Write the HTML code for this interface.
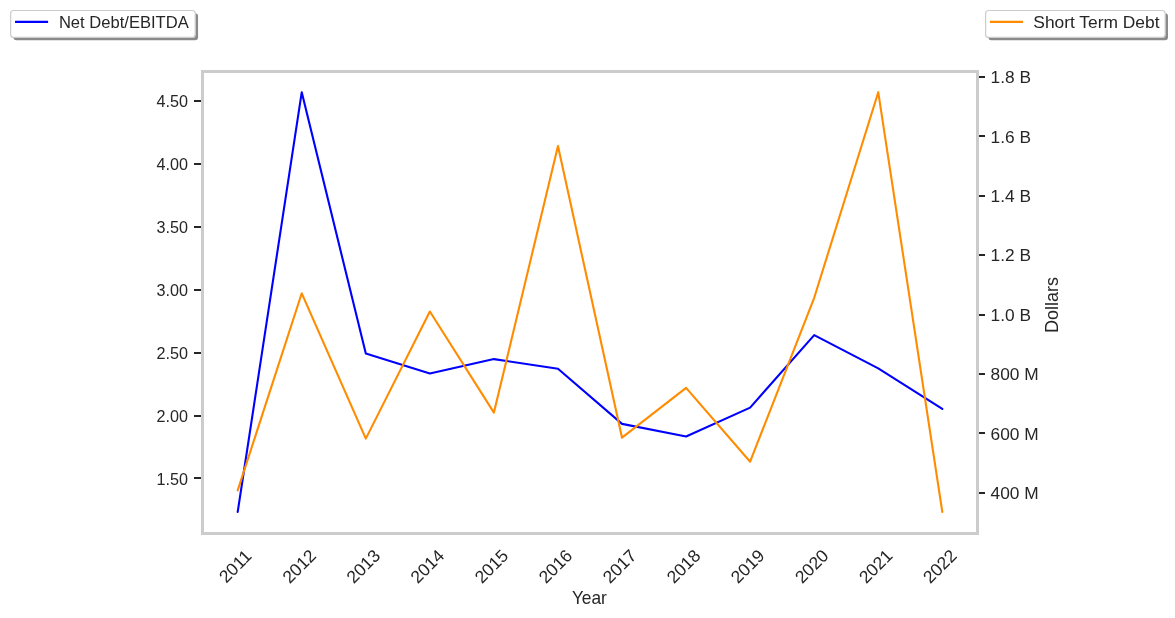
<!DOCTYPE html><html><head><meta charset="utf-8"><style>html,body{margin:0;padding:0;background:#fff;overflow:hidden}svg{display:block;will-change:transform}</style></head><body>
<svg width="1175" height="618" viewBox="0 0 1175 618" font-family='"Liberation Sans", sans-serif' fill="#262626">
<rect x="0" y="0" width="1175" height="618" fill="#fff"/>
<polyline points="237.70,511.90 301.75,92.20 365.81,353.60 429.87,373.50 493.92,359.10 557.98,368.80 622.03,423.90 686.09,436.50 750.14,407.60 814.20,335.10 878.25,368.40 942.31,408.90" fill="none" stroke="#0000ff" stroke-width="2.1" stroke-linejoin="round" stroke-linecap="round"/>
<polyline points="237.70,490.40 301.75,293.30 365.81,438.60 429.87,311.50 493.92,412.60 557.98,146.10 622.03,437.70 686.09,387.90 750.14,461.70 814.20,297.80 878.25,92.20 942.31,511.90" fill="none" stroke="#ff8c00" stroke-width="2.1" stroke-linejoin="round" stroke-linecap="round"/>
<rect x="202.5" y="71.5" width="775" height="462" fill="none" stroke="#cccccc" stroke-width="3"/>
<rect x="194" y="100.00" width="7" height="2" fill="#262626"/>
<text x="188" y="107" font-size="16.5" text-anchor="end" textLength="31.5" lengthAdjust="spacingAndGlyphs">4.50</text>
<rect x="194" y="163.00" width="7" height="2" fill="#262626"/>
<text x="188" y="170" font-size="16.5" text-anchor="end" textLength="31.5" lengthAdjust="spacingAndGlyphs">4.00</text>
<rect x="194" y="226.00" width="7" height="2" fill="#262626"/>
<text x="188" y="233" font-size="16.5" text-anchor="end" textLength="31.5" lengthAdjust="spacingAndGlyphs">3.50</text>
<rect x="194" y="289.00" width="7" height="2" fill="#262626"/>
<text x="188" y="296" font-size="16.5" text-anchor="end" textLength="31.5" lengthAdjust="spacingAndGlyphs">3.00</text>
<rect x="194" y="352.00" width="7" height="2" fill="#262626"/>
<text x="188" y="359" font-size="16.5" text-anchor="end" textLength="31.5" lengthAdjust="spacingAndGlyphs">2.50</text>
<rect x="194" y="415.00" width="7" height="2" fill="#262626"/>
<text x="188" y="422" font-size="16.5" text-anchor="end" textLength="31.5" lengthAdjust="spacingAndGlyphs">2.00</text>
<rect x="194" y="477.00" width="7" height="2" fill="#262626"/>
<text x="188" y="485" font-size="16.5" text-anchor="end" textLength="31.5" lengthAdjust="spacingAndGlyphs">1.50</text>
<rect x="979" y="76.00" width="6" height="2" fill="#262626"/>
<text transform="translate(990.5,83) scale(1.05,1)" font-size="16.5">1.8 B</text>
<rect x="979" y="135.00" width="6" height="2" fill="#262626"/>
<text transform="translate(990.5,143) scale(1.05,1)" font-size="16.5">1.6 B</text>
<rect x="979" y="195.00" width="6" height="2" fill="#262626"/>
<text transform="translate(990.5,202) scale(1.05,1)" font-size="16.5">1.4 B</text>
<rect x="979" y="254.00" width="6" height="2" fill="#262626"/>
<text transform="translate(990.5,261) scale(1.05,1)" font-size="16.5">1.2 B</text>
<rect x="979" y="314.00" width="6" height="2" fill="#262626"/>
<text transform="translate(990.5,321) scale(1.05,1)" font-size="16.5">1.0 B</text>
<rect x="979" y="373.00" width="6" height="2" fill="#262626"/>
<text transform="translate(990.5,380) scale(1.05,1)" font-size="16.5">800 M</text>
<rect x="979" y="432.00" width="6" height="2" fill="#262626"/>
<text transform="translate(990.5,440) scale(1.05,1)" font-size="16.5">600 M</text>
<rect x="979" y="492.00" width="6" height="2" fill="#262626"/>
<text transform="translate(990.5,499) scale(1.05,1)" font-size="16.5">400 M</text>
<text transform="translate(235.20,566.3) rotate(-45)" font-size="17.5" text-anchor="middle" dominant-baseline="central">2011</text>
<text transform="translate(299.25,566.3) rotate(-45)" font-size="17.5" text-anchor="middle" dominant-baseline="central">2012</text>
<text transform="translate(363.31,566.3) rotate(-45)" font-size="17.5" text-anchor="middle" dominant-baseline="central">2013</text>
<text transform="translate(427.37,566.3) rotate(-45)" font-size="17.5" text-anchor="middle" dominant-baseline="central">2014</text>
<text transform="translate(491.42,566.3) rotate(-45)" font-size="17.5" text-anchor="middle" dominant-baseline="central">2015</text>
<text transform="translate(555.48,566.3) rotate(-45)" font-size="17.5" text-anchor="middle" dominant-baseline="central">2016</text>
<text transform="translate(619.53,566.3) rotate(-45)" font-size="17.5" text-anchor="middle" dominant-baseline="central">2017</text>
<text transform="translate(683.59,566.3) rotate(-45)" font-size="17.5" text-anchor="middle" dominant-baseline="central">2018</text>
<text transform="translate(747.64,566.3) rotate(-45)" font-size="17.5" text-anchor="middle" dominant-baseline="central">2019</text>
<text transform="translate(811.70,566.3) rotate(-45)" font-size="17.5" text-anchor="middle" dominant-baseline="central">2020</text>
<text transform="translate(875.75,566.3) rotate(-45)" font-size="17.5" text-anchor="middle" dominant-baseline="central">2021</text>
<text transform="translate(939.81,566.3) rotate(-45)" font-size="17.5" text-anchor="middle" dominant-baseline="central">2022</text>
<text transform="translate(589.4,604) scale(0.963,1)" font-size="18" text-anchor="middle">Year</text>
<text transform="translate(1058.2,305) rotate(-90)" font-size="18" text-anchor="middle">Dollars</text>
<rect x="13.46" y="13.30" width="184.6" height="26.9" rx="3" fill="#8a8a8a"/>
<rect x="10.66" y="10.50" width="184.6" height="26.9" rx="3" fill="#fff" stroke="#cccccc" stroke-width="1.2"/>
<line x1="16.06" y1="21.9" x2="47.06" y2="21.9" stroke="#0000ff" stroke-width="2.1" stroke-linecap="square"/>
<text transform="translate(58.9,27.8) scale(1.005,1)" font-size="16.5">Net Debt/EBITDA</text>
<rect x="988.40" y="13.30" width="179.6" height="26.9" rx="3" fill="#8a8a8a"/>
<rect x="985.60" y="10.50" width="179.6" height="26.9" rx="3" fill="#fff" stroke="#cccccc" stroke-width="1.2"/>
<line x1="991.00" y1="21.9" x2="1022.00" y2="21.9" stroke="#ff8c00" stroke-width="2.1" stroke-linecap="square"/>
<text transform="translate(1033.3,27.9) scale(1.054,1)" font-size="16.5">Short Term Debt</text>
</svg></body></html>
